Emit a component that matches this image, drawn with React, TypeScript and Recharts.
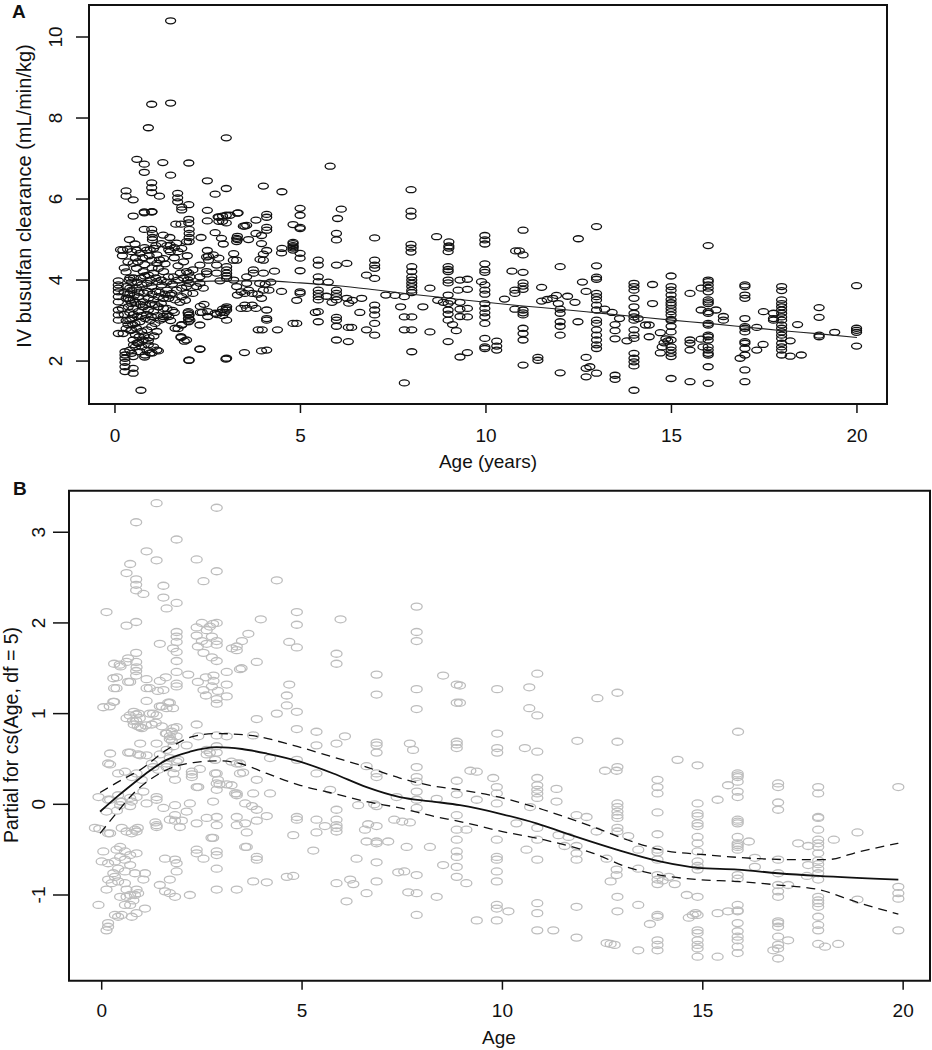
import React from 'react';
import { ScatterChart, Scatter, XAxis, YAxis, ReferenceArea } from 'recharts';

// Panel A: IV busulfan clearance (mL/min/kg) vs age (years)
const clearanceYoung: [number, number][] = [
  [1.5, 10.4], [0.99, 8.34], [1.5, 8.37], [0.9, 7.76], [3.0, 7.51], [0.59, 6.98], [0.79, 6.86], [1.29, 6.9], [1.99, 6.89],
  [0.79, 6.66], [1.5, 6.59], [0.3, 6.2], [0.3, 6.07], [0.49, 5.98], [0.99, 6.4], [0.99, 6.28], [0.99, 6.16], [1.2, 6.07],
  [1.69, 6.14], [1.69, 6.03], [1.69, 5.93], [1.8, 5.8], [1.8, 5.73], [1.99, 5.86], [2.49, 6.45], [2.7, 6.12], [3.0, 6.26],
  [4.0, 6.32], [4.5, 6.18], [2.49, 5.72], [0.49, 5.58], [0.79, 5.68], [0.99, 5.68], [1.99, 5.5], [1.99, 5.41], [2.49, 5.46],
  [2.8, 5.55], [2.9, 5.58], [3.0, 5.6], [3.1, 5.6], [3.3, 5.65], [3.0, 5.41], [4.09, 5.62], [4.09, 5.55], [4.99, 5.77],
  [4.99, 5.6], [4.8, 5.37], [4.99, 5.3], [4.99, 5.27], [3.5, 5.33], [3.55, 5.35], [3.8, 5.48], [4.09, 5.3], [4.09, 5.23],
  [4.8, 4.93], [4.8, 4.85], [4.8, 4.79], [4.5, 4.78], [4.09, 4.73], [2.49, 4.73],
  [0.79, 5.66], [1.0, 5.69], [1.64, 5.38], [1.78, 5.38], [0.79, 5.25], [0.99, 5.25], [1.01, 5.15], [1.01, 5.05], [1.01, 4.99],
  [1.3, 5.11], [1.48, 5.05], [2.0, 5.25], [2.0, 5.15], [2.0, 5.05], [2.0, 4.95], [2.32, 5.05], [2.7, 5.17], [2.87, 5.03],
  [2.92, 4.89], [3.28, 5.03], [3.28, 4.95], [3.46, 5.33], [3.6, 5.0], [3.8, 5.15], [3.95, 5.1], [3.95, 4.9], [0.39, 5.0],
  [0.54, 4.89], [0.21, 4.74], [0.34, 4.76], [0.8, 4.8], [0.95, 4.75], [1.1, 4.85], [1.25, 4.9], [1.45, 4.75], [1.6, 4.8],
  [1.7, 4.7], [2.52, 4.59], [2.52, 4.49], [3.28, 4.49], [3.91, 4.51], [2.78, 5.56], [3.32, 5.66], [2.8, 5.45], [2.9, 5.45],
  [0.45, 4.7], [0.58, 4.74], [0.67, 4.66], [0.86, 4.74], [1.04, 4.78], [1.13, 4.62], [0.99, 4.49], [1.13, 4.41], [1.31, 4.53],
  [1.49, 4.7], [1.49, 4.86], [1.66, 4.91], [1.8, 4.78], [1.93, 4.95],
  [0.49, 4.41], [0.58, 4.29], [0.76, 4.21], [0.9, 4.12], [1.04, 4.17], [1.17, 4.29], [1.31, 4.21], [1.44, 4.08], [1.58, 4.08],
  [1.76, 4.17], [1.93, 4.21], [2.02, 4.08],
  [0.31, 3.84], [0.45, 3.75], [0.58, 3.8], [0.72, 3.88], [0.86, 3.92], [0.99, 3.84], [1.13, 3.96], [1.26, 3.88], [1.4, 3.75],
  [1.53, 3.67], [1.66, 3.75], [1.8, 3.8], [1.93, 3.84],
  [0.36, 3.55], [0.49, 3.51], [0.63, 3.59], [0.76, 3.46], [0.9, 3.55], [1.04, 3.51], [1.17, 3.59], [1.31, 3.55], [1.49, 3.63],
  [1.62, 3.51], [1.8, 3.59], [1.93, 3.67],
  [0.36, 3.34], [0.49, 3.3], [0.63, 3.22], [0.76, 3.34], [0.9, 3.26], [1.04, 3.22], [1.17, 3.34], [1.31, 3.3],
  [0.4, 3.01], [0.54, 2.93], [0.67, 2.97], [0.81, 3.05], [0.95, 3.01], [1.08, 2.93], [1.22, 3.01],
  [0.45, 2.77], [0.58, 2.81], [0.72, 2.73], [0.86, 2.77], [0.99, 2.85], [1.13, 2.73],
  [0.49, 2.52], [0.63, 2.44], [0.76, 2.52], [0.9, 2.4], [1.04, 2.35], [1.13, 2.27], [0.86, 2.27], [0.67, 2.23], [0.81, 2.15],
  [0.4, 2.27], [0.45, 2.19], [0.49, 2.11],
  [0.55, 4.55], [0.62, 4.45], [0.75, 4.55], [0.8, 4.38], [0.92, 4.6], [1.0, 4.3], [1.2, 4.5], [1.35, 4.4], [1.4, 4.85],
  [1.6, 4.55], [1.7, 4.35], [1.85, 4.45], [1.95, 4.6],
  [0.38, 4.0], [0.5, 4.05], [0.6, 3.95], [0.7, 4.05], [0.8, 4.1], [0.95, 4.0], [1.1, 4.05], [1.25, 4.0], [1.4, 3.95],
  [1.55, 3.9], [1.7, 4.0], [1.85, 4.05], [2.0, 3.92],
  [0.4, 3.65], [0.52, 3.62], [0.65, 3.7], [0.78, 3.68], [0.88, 3.72], [1.0, 3.65], [1.1, 3.72], [1.2, 3.7], [1.35, 3.65],
  [1.45, 3.55], [1.75, 3.45], [1.9, 3.5],
  [0.45, 3.42], [0.55, 3.45], [0.68, 3.4], [0.82, 3.38], [0.95, 3.42], [1.08, 3.4], [1.25, 3.42], [1.4, 3.3], [1.55, 3.25],
  [0.5, 3.15], [0.6, 3.1], [0.72, 3.12], [0.85, 3.15], [0.98, 3.1], [1.15, 3.12], [1.3, 3.05], [1.45, 3.1],
  [0.55, 2.65], [0.65, 2.6], [0.78, 2.62], [0.92, 2.58], [1.05, 2.62], [0.55, 2.35], [0.72, 2.35], [0.95, 2.2],
  [0.27, 2.23], [0.27, 2.15], [0.27, 2.07], [0.27, 1.97], [0.27, 1.86], [0.27, 1.74], [0.49, 1.82], [0.49, 1.7], [0.7, 1.28],
  [0.09, 2.68], [0.22, 2.68], [1.17, 2.25], [0.8, 2.1], [1.0, 2.2], [0.6, 2.45], [0.5, 2.4], [0.9, 2.5],
  [1.78, 2.58], [1.87, 2.49], [1.99, 2.02], [2.29, 2.3], [2.99, 2.05], [3.49, 2.21], [3.95, 2.25], [3.86, 2.77], [2.29, 2.89],
  [1.62, 2.81], [1.8, 2.89], [1.98, 3.22], [1.98, 3.14], [1.98, 3.05], [1.98, 2.97], [2.3, 3.2], [2.5, 3.22], [2.7, 3.18],
  [2.9, 3.12], [2.9, 3.28], [3.0, 3.3], [2.95, 3.2],
  [0.09, 3.98], [0.09, 3.88], [0.09, 3.8], [0.09, 3.71], [0.09, 3.59], [0.09, 3.46], [0.09, 3.26], [0.09, 3.14], [0.09, 3.01],
  [0.15, 4.75], [0.2, 4.6], [0.25, 4.3], [0.3, 4.2], [0.35, 4.45], [0.2, 3.3], [0.25, 3.15], [0.3, 3.0], [0.35, 2.9],
  [0.3, 2.8], [0.4, 3.5], [0.4, 3.8], [0.35, 3.65], [0.3, 3.55], [0.25, 3.7], [0.4, 4.05], [0.45, 3.95], [0.4, 3.2],
  [0.45, 3.05], [0.48, 2.9], [0.42, 2.75],
  [3.19, 4.49], [3.01, 4.33], [3.01, 4.25], [3.01, 4.17], [3.01, 4.1], [3.01, 4.04], [2.74, 4.37], [2.74, 4.17], [2.83, 3.98],
  [3.2, 4.0], [3.28, 3.84], [3.4, 3.71], [3.3, 3.63], [3.5, 3.67], [3.6, 3.75], [3.7, 3.67], [3.55, 4.08], [3.55, 3.92],
  [3.73, 4.17], [3.73, 4.25], [4.0, 4.17], [2.47, 4.21], [2.47, 4.15], [2.29, 4.08], [2.29, 3.92], [2.38, 3.8], [2.2, 3.84],
  [2.1, 3.67], [1.97, 4.0], [1.99, 4.17], [2.1, 4.25], [2.29, 4.37], [2.47, 4.57], [2.65, 4.62], [2.8, 4.54], [3.2, 4.65],
  [3.3, 5.0], [3.3, 5.08],
  [1.78, 2.6], [1.93, 2.52], [1.7, 2.8], [1.8, 2.9], [2.0, 3.14], [1.99, 3.05], [2.02, 3.01], [1.97, 3.19], [1.5, 3.0],
  [1.4, 3.15], [1.6, 3.2], [1.3, 3.1], [3.01, 2.07], [2.29, 2.29], [2.0, 2.02],
  [3.4, 3.3], [3.5, 3.38], [3.55, 3.3], [3.7, 3.38], [3.8, 3.3], [3.01, 3.34], [3.01, 3.26], [3.01, 3.01], [2.85, 3.2],
  [2.75, 3.15], [2.5, 3.1], [2.3, 3.35], [2.4, 3.4], [2.35, 3.2],
  [4.0, 4.64], [4.0, 4.49], [4.49, 4.67], [4.8, 4.9], [4.8, 4.82], [4.8, 4.74], [4.99, 4.66], [4.99, 4.54], [4.99, 4.23],
  [4.3, 4.22], [4.2, 3.95], [4.05, 3.9], [3.9, 3.92], [4.15, 3.75], [4.0, 3.75], [3.85, 3.65], [3.95, 3.55],
  [4.09, 3.26], [4.09, 3.05], [4.09, 3.01], [3.97, 2.77], [4.38, 2.77], [4.09, 2.27], [4.49, 3.72], [4.99, 3.71],
  [4.99, 3.67], [4.9, 3.5], [4.8, 2.93], [4.9, 2.93],
];

const clearanceOlder: [number, number][] = [
  [5.8, 6.81], [6.0, 5.52], [6.1, 5.75], [7.98, 6.23], [7.98, 5.7], [7.98, 5.58], [5.97, 5.15], [5.97, 4.99], [7.0, 5.04],
  [8.67, 5.07], [9.0, 4.94], [9.0, 4.84], [9.0, 4.79], [7.98, 4.88], [7.98, 4.79], [7.98, 4.69],
  [5.48, 4.49], [5.48, 4.37], [5.97, 4.37], [6.25, 4.41], [7.0, 4.49], [7.0, 4.37], [7.0, 4.29], [6.78, 4.12], [7.0, 4.04],
  [8.0, 4.33], [8.0, 4.21], [8.0, 4.08], [8.0, 4.0], [8.0, 3.92], [8.0, 3.84], [8.0, 3.75], [8.0, 3.69], [8.49, 3.8],
  [8.98, 4.7], [8.98, 4.33], [8.98, 4.26], [8.98, 4.21], [8.98, 4.0], [8.98, 3.93], [8.98, 3.63], [8.98, 3.42], [8.98, 3.26],
  [8.98, 3.16], [8.98, 3.01], [8.98, 2.48], [8.7, 3.5], [8.85, 3.45], [9.05, 3.48], [9.3, 3.45], [9.25, 3.75], [9.3, 4.0],
  [9.3, 3.28], [9.3, 3.1], [9.1, 2.9], [9.2, 2.75], [9.3, 2.1],
  [7.3, 3.63], [7.55, 3.62], [7.8, 3.59], [7.7, 3.34], [7.8, 3.09], [8.0, 3.09], [8.0, 2.77], [7.8, 2.77], [8.0, 2.23],
  [7.8, 1.46], [8.49, 2.72], [8.3, 3.34],
  [7.0, 3.38], [7.0, 3.26], [7.0, 3.14], [7.0, 2.93], [7.0, 2.64], [6.78, 2.77], [6.4, 3.5], [6.3, 3.43], [6.65, 3.55],
  [6.6, 3.2], [6.29, 2.83], [6.38, 2.83], [6.29, 2.48],
  [5.97, 3.75], [5.97, 3.67], [5.97, 3.59], [5.97, 3.51], [5.97, 3.08], [5.97, 3.01], [5.97, 2.86], [5.97, 2.52], [6.25, 3.55],
  [5.48, 4.08], [5.48, 3.96], [5.48, 3.75], [5.48, 3.67], [5.48, 3.59], [5.48, 3.51], [5.48, 3.22], [5.48, 2.97], [5.4, 3.2],
  [5.7, 3.6], [5.85, 3.45], [5.75, 3.95],
  [9.97, 5.1], [9.97, 4.99], [9.97, 4.89], [11.0, 5.23], [12.49, 5.02], [12.98, 5.32], [15.99, 4.85], [10.8, 4.72], [10.9, 4.72],
  [11.0, 4.62], [9.97, 4.4], [9.97, 4.25], [9.97, 4.19], [10.7, 4.22], [11.0, 4.19], [12.0, 4.33], [12.98, 4.35], [12.98, 4.07],
  [12.98, 4.02], [9.5, 4.02], [9.5, 3.77], [9.88, 3.96], [9.97, 3.88], [9.97, 3.75], [9.97, 3.65], [10.78, 3.75], [10.78, 3.67],
  [11.0, 3.93], [11.0, 3.85], [11.0, 3.77], [11.5, 3.82], [10.5, 3.53], [9.5, 3.3], [9.5, 3.09], [9.97, 3.42],
  [9.97, 3.3], [9.97, 3.19], [9.97, 3.09], [9.97, 2.93], [10.78, 3.28], [11.0, 3.26], [11.0, 3.19], [11.0, 3.14], [11.0, 2.81],
  [11.0, 2.68], [11.0, 2.52], [9.97, 2.56], [9.97, 2.35], [9.97, 2.31], [10.29, 2.49], [10.29, 2.37], [10.29, 2.27], [9.5, 2.21],
  [11.4, 2.09], [11.4, 2.02], [11.0, 1.9], [12.0, 1.71], [11.5, 3.48], [11.65, 3.52], [11.8, 3.55], [11.9, 3.62], [11.95, 3.42],
  [12.0, 3.28], [12.0, 3.18], [12.0, 2.97], [12.0, 2.86], [12.0, 2.64], [12.2, 3.6], [12.4, 3.45], [12.6, 3.95], [12.7, 3.72],
  [12.48, 2.97], [12.98, 3.67], [12.98, 3.59], [12.98, 3.51], [12.98, 3.38], [12.98, 3.26], [12.98, 3.01], [12.98, 2.93],
  [12.98, 2.77], [12.98, 2.64], [12.98, 2.52], [12.98, 2.4], [12.98, 2.31], [12.7, 2.09], [12.7, 1.82], [12.8, 1.86],
  [12.98, 1.7], [12.7, 1.61], [13.48, 1.65], [13.48, 1.55], [13.2, 3.28], [13.4, 3.2], [13.6, 3.05], [13.48, 2.9],
  [13.48, 2.75], [13.48, 2.55], [13.8, 2.5],
  [13.99, 3.92], [13.99, 3.84], [13.99, 3.75], [13.99, 3.55], [13.99, 3.34], [13.99, 3.18], [13.99, 3.09], [13.99, 3.01],
  [13.99, 2.77], [13.99, 2.64], [13.99, 2.56], [13.99, 2.19], [13.99, 2.07], [13.99, 1.98], [13.99, 1.88], [13.99, 1.28],
  [14.49, 3.89], [14.49, 3.42], [14.3, 2.89], [14.4, 2.89], [14.4, 2.6], [14.1, 3.05],
  [14.99, 4.1], [14.99, 3.84], [14.99, 3.75], [14.99, 3.63], [14.99, 3.52], [14.99, 3.44], [14.99, 3.38], [14.99, 3.3],
  [14.99, 3.22], [14.99, 3.14], [14.99, 3.03], [14.99, 3.0], [14.99, 2.86], [14.99, 2.72], [14.99, 2.52], [14.99, 2.35],
  [14.99, 2.27], [14.99, 2.19], [14.99, 2.11], [14.99, 1.57], [14.7, 2.7], [14.7, 2.2], [14.8, 2.45], [14.75, 2.35],
  [14.85, 2.55], [14.9, 2.5],
  [15.5, 3.67], [15.5, 2.52], [15.5, 2.44], [15.5, 2.27], [15.5, 1.49], [15.8, 3.8], [15.8, 3.26], [15.8, 2.54], [15.85, 2.35],
  [15.99, 4.0], [15.99, 3.96], [15.99, 3.88], [15.99, 3.8], [15.99, 3.71], [15.99, 3.51], [15.99, 3.46], [15.99, 3.42],
  [15.99, 3.22], [15.99, 3.18], [15.99, 2.93], [15.99, 2.89], [15.99, 2.64], [15.99, 2.6], [15.99, 2.52], [15.99, 2.35],
  [15.99, 2.27], [15.99, 2.19], [15.99, 2.15], [15.99, 1.86], [15.99, 1.45], [16.2, 3.26], [16.4, 3.1], [16.4, 3.01],
  [16.98, 3.88], [16.98, 3.84], [16.98, 3.63], [16.98, 3.55], [16.98, 3.05], [16.98, 2.85], [16.98, 2.81], [16.98, 2.72],
  [16.98, 2.48], [16.98, 2.44], [16.98, 2.31], [16.98, 2.15], [16.98, 1.78], [16.98, 1.49], [16.85, 2.07], [17.3, 2.27],
  [17.47, 2.41], [17.3, 2.83], [17.48, 3.22], [17.75, 3.18], [17.75, 3.05], [17.75, 3.01],
  [17.97, 3.84], [17.97, 3.74], [17.97, 3.51], [17.97, 3.42], [17.97, 3.34], [17.97, 3.26], [17.97, 3.18], [17.97, 3.09],
  [17.97, 3.01], [17.97, 2.89], [17.97, 2.81], [17.97, 2.72], [17.97, 2.64], [17.97, 2.56], [17.97, 2.44], [17.97, 2.35],
  [17.97, 2.27], [17.97, 2.15], [18.2, 2.5], [18.2, 2.12], [18.4, 2.9], [18.5, 2.15],
  [18.98, 3.32], [18.98, 3.08], [18.98, 2.64], [18.98, 2.6], [19.4, 2.71], [19.99, 3.86], [19.99, 2.81], [19.99, 2.76],
  [19.99, 2.71], [19.99, 2.37],
];

// smooth fit through panel A
const fitA: [number, number][] = [
  [0.09, 3.72], [0.5, 3.8], [1, 3.87], [1.5, 3.92], [2, 3.95], [3, 3.98], [4, 3.98], [5, 3.93], [6, 3.86], [7, 3.76],
  [8, 3.65], [9, 3.55], [10, 3.45], [11, 3.36], [12, 3.28], [13, 3.19], [14, 3.1], [15, 3.01], [16, 2.93], [17, 2.84],
  [18, 2.75], [19, 2.67], [20, 2.58],
];

// Panel B: partial residuals for cs(Age, df = 5)
const partialYoung: [number, number][] = [
  [1.37, 3.32], [2.87, 3.27], [0.86, 3.11], [1.87, 2.92], [1.12, 2.79], [1.37, 2.69], [2.37, 2.7], [0.71, 2.65], [0.62, 2.55],
  [2.87, 2.57], [0.86, 2.48], [0.86, 2.42], [0.86, 2.36], [1.04, 2.32], [1.54, 2.41], [1.54, 2.28], [1.62, 2.16], [1.87, 2.22],
  [2.54, 2.46], [4.37, 2.47], [0.12, 2.12], [0.62, 1.97], [0.86, 2.01], [1.87, 1.9], [1.87, 1.85], [1.87, 1.79], [1.87, 1.68],
  [1.87, 1.58], [1.87, 1.46], [1.87, 1.33], [1.45, 1.77], [1.78, 1.72], [2.37, 1.86], [2.54, 1.67], [2.62, 1.92], [2.7, 1.96],
  [2.78, 1.99], [2.87, 2.0], [2.87, 1.8], [2.87, 1.76], [2.87, 1.58], [2.62, 1.77], [3.37, 1.74], [3.37, 1.7], [3.5, 1.8],
  [3.66, 1.88], [3.97, 2.04], [3.87, 1.57], [3.45, 1.49], [3.12, 1.46], [3.12, 1.32], [3.12, 1.19], [2.87, 1.16], [2.87, 1.11],
  [2.79, 1.42], [2.79, 1.36], [2.54, 1.26], [2.16, 1.43], [1.87, 1.3], [1.54, 1.26], [1.45, 1.36], [1.7, 1.12], [1.78, 1.06],
  [0.31, 1.55], [0.47, 1.52], [0.38, 1.4], [0.31, 1.28], [0.31, 1.13], [0.2, 1.08], [0.66, 1.35], [0.86, 1.47], [0.86, 1.42],
  [0.86, 1.57], [0.66, 1.61], [0.86, 1.67], [1.12, 1.38], [1.12, 1.28], [1.12, 1.14], [1.2, 1.0], [1.4, 1.25],
  [0.7, 0.98], [0.8, 1.02], [0.86, 0.99], [0.92, 1.0], [0.95, 0.95], [0.62, 0.95], [0.78, 0.92], [0.8, 0.88], [0.86, 0.92],
  [0.96, 0.85], [1.1, 0.87], [1.28, 1.0], [1.5, 1.08], [1.62, 1.06], [1.5, 0.86], [1.6, 0.78], [1.7, 0.72], [1.75, 0.7],
  [1.87, 0.75], [2.37, 0.88], [3.87, 0.94], [4.37, 1.0], [4.62, 1.2], [4.62, 1.09], [4.68, 1.32], [4.87, 2.12], [4.87, 1.98],
  [4.87, 1.73], [4.68, 1.79], [4.87, 1.02], [4.87, 0.83],
  [2.37, 1.95], [2.5, 2.0], [2.5, 1.8], [2.75, 1.85], [2.4, 1.74], [2.75, 1.62], [3.25, 1.72],
  [0.45, 1.54], [0.62, 1.57], [0.87, 1.51], [0.29, 1.39], [0.37, 1.28], [0.71, 1.35], [1.2, 1.28], [1.6, 1.4],
  [0.04, 1.07], [0.29, 1.13], [1.45, 1.08], [1.37, 0.98], [1.66, 1.12], [0.9, 0.86], [1.0, 0.84], [1.25, 0.88],
  [1.35, 0.9], [1.75, 0.8], [1.87, 0.85], [2.4, 1.35], [2.6, 1.4], [2.75, 1.3], [2.9, 1.25], [2.6, 1.2], [3.49, 1.5],
  [0.21, 0.56], [0.21, 0.44], [0.66, 0.57], [0.71, 0.57], [0.96, 0.54], [1.12, 0.54], [0.96, 0.67], [0.16, 0.45],
  [0.41, 0.34], [0.58, 0.36], [0.75, 0.3], [0.87, 0.34], [1.0, 0.27], [1.25, 0.45], [1.41, 0.38], [1.62, 0.41], [1.83, 0.4],
  [1.7, 0.51], [1.91, 0.49], [1.83, 0.27], [2.25, 0.36], [2.25, 0.33], [2.25, 0.3], [2.41, 0.19], [2.83, 0.34], [2.9, 0.27],
  [2.94, 0.22], [3.24, 0.21], [2.83, 0.49], [3.24, 0.47], [3.33, 0.12], [3.45, 0.34], [0.91, 0.55], [1.29, 0.41], [1.45, 0.55],
  [1.62, 0.45], [1.79, 0.34], [1.87, 0.47], [1.62, 0.6], [1.79, 0.64], [2.12, 0.65], [2.41, 0.75], [2.62, 0.6], [2.7, 0.57],
  [2.87, 0.64], [3.12, 0.75], [3.45, 0.45], [3.78, 0.76], [4.2, 0.51], [2.87, 0.76], [1.37, 0.67], [1.62, 0.78], [1.79, 0.84],
  [1.7, 0.75], [2.45, 0.39], [2.62, 0.55], [2.87, 0.57], [2.87, 0.34], [2.87, 0.23], [2.87, 0.16], [3.12, 0.22], [2.37, 0.19],
  [3.37, 0.45], [3.53, 0.35], [3.87, 0.27], [4.2, 0.12], [3.78, 0.12], [3.37, 0.12], [4.87, 0.49],
  [-0.08, 0.08], [0.16, 0.05], [0.41, 0.1], [0.5, 0.03], [0.71, 0.07], [0.87, 0.08], [1.12, 0.01], [1.37, 0.08], [1.37, 0.05],
  [1.54, -0.04], [1.83, -0.01], [2.2, 0.01], [2.12, -0.08], [1.83, -0.12], [1.7, -0.17], [1.83, -0.18], [2.0, -0.18],
  [1.95, -0.25], [2.37, -0.21], [2.62, -0.15], [2.87, -0.14], [2.87, -0.23], [2.78, 0.03], [3.37, 0.1], [3.37, -0.14],
  [3.37, -0.23], [3.58, 0.01], [1.04, 0.14], [0.75, 0.03], [0.71, -0.02], [0.46, -0.01], [0.38, -0.07], [0.46, 0.03],
  [0.21, 0.05], [0.12, -0.08], [-0.06, -0.27], [0.21, -0.32], [1.37, -0.23], [1.37, -0.25], [2.78, -0.37],
  [-0.17, -0.26], [0.16, -0.32], [0.5, -0.26], [0.62, -0.3], [0.75, -0.32], [0.83, -0.28], [0.87, -0.3], [0.9, -0.26],
  [1.34, -0.2], [0.04, -0.52], [0.37, -0.5], [0.46, -0.47], [0.58, -0.52], [0.71, -0.56], [0.87, -0.54], [0.0, -0.63],
  [0.16, -0.65], [0.33, -0.63], [0.46, -0.58], [0.58, -0.61], [0.71, -0.67], [0.41, -0.71], [0.58, -0.74], [0.83, -0.76],
  [0.29, -0.76], [0.33, -0.8], [0.16, -0.83], [0.41, -0.85], [0.58, -0.87], [0.25, -0.87], [0.12, -0.94], [0.62, -0.94],
  [0.87, -0.94], [0.46, -1.02], [0.62, -1.02], [0.71, -1.0], [0.83, -1.0], [0.91, -0.98], [0.79, -1.06], [0.71, -1.11],
  [0.58, -1.11], [1.08, -1.15], [0.87, -1.2], [0.75, -1.24], [0.5, -1.22], [0.41, -1.24], [0.33, -1.22], [0.16, -1.31],
  [0.16, -1.35], [0.12, -1.39], [-0.08, -1.11], [1.08, -0.76], [1.04, -0.83],
  [1.58, -0.6], [1.83, -0.61], [1.87, -0.65], [1.87, -0.74], [1.7, -0.83], [1.45, -0.89], [1.58, -0.96], [1.7, -0.98],
  [1.83, -1.02], [2.2, -1.0], [2.37, -0.5], [2.37, -0.54], [2.54, -0.6], [2.87, -0.52], [2.87, -0.56], [2.87, -0.71],
  [2.87, -0.94], [3.37, -0.94], [3.58, -0.47], [3.58, -0.21], [2.74, -0.37],
  [3.62, -0.47], [3.87, -0.58], [3.87, -0.61], [3.78, -0.85], [4.12, -0.86], [4.62, -0.8], [4.78, -0.79],
  [3.62, -0.31], [3.87, -0.18], [3.75, -0.02], [3.87, -0.06], [4.12, -0.13],
];

const partialOlder: [number, number][] = [
  [5.36, 0.8], [5.36, 0.65], [5.86, 1.66], [5.86, 1.55], [5.96, 2.04], [6.07, 0.75], [5.86, 0.67], [6.86, 1.43], [6.86, 1.21],
  [6.86, 0.68], [6.86, 0.65], [6.86, 0.57], [6.61, 0.42], [7.86, 2.18], [7.86, 1.9], [7.86, 1.8], [7.86, 1.27], [7.86, 1.05],
  [7.86, 0.41], [7.69, 0.67], [7.77, 0.6], [8.52, 1.42], [8.86, 1.32], [8.86, 1.12], [8.86, 0.69], [8.86, 0.66], [8.86, 0.62],
  [5.36, 0.34], [5.7, 0.16], [6.86, 0.34], [6.86, 0.3],
  [5.28, -0.51], [4.78, -0.34], [4.87, -0.14], [4.87, -0.17], [5.36, -0.17], [5.36, -0.31], [5.57, -0.24], [5.86, -0.06],
  [5.86, -0.17], [5.86, -0.23], [5.86, -0.26], [5.86, -0.3], [5.86, -0.87], [6.2, -0.83], [6.28, -0.88], [6.11, -1.07],
  [6.36, -0.6], [6.61, -0.98], [6.57, -0.28], [6.65, -0.22], [6.86, -0.24], [6.61, -0.41], [6.86, -0.41], [6.86, -0.43],
  [7.15, -0.41], [6.86, -0.64], [6.86, -0.85], [6.4, -0.01], [6.8, 0.0], [6.86, -0.02], [7.36, 0.08], [7.3, -0.17],
  [7.5, -0.19], [7.69, -0.2], [7.61, -0.47], [8.19, -0.47], [7.4, -0.75], [7.55, -0.74], [7.86, -0.78], [7.65, -0.97],
  [7.86, -0.98], [7.86, -1.22], [8.36, -1.02], [8.52, -0.67], [7.86, 0.3], [7.86, 0.25], [7.86, 0.14], [7.86, 0.05],
  [7.86, -0.04], [8.36, 0.06], [8.86, 0.26], [8.86, 0.11], [8.86, -0.12], [8.86, -0.28], [8.86, -0.39], [8.86, -0.52],
  [8.86, -0.58], [8.86, -0.69], [8.86, -0.8], [9.1, -0.28],
  [10.87, 1.44], [10.67, 1.29], [9.87, 1.27], [10.67, 1.06], [10.87, 0.98], [12.37, 1.17], [12.87, 1.23], [9.87, 0.78],
  [9.87, 0.62], [9.87, 0.57], [10.56, 0.62], [10.87, 0.58], [11.87, 0.7], [12.87, 0.69], [15.88, 0.8], [14.37, 0.49],
  [14.87, 0.43], [12.87, 0.41], [12.56, 0.37], [12.85, 0.37], [9.2, 0.37], [8.94, 1.31], [8.94, 1.12],
  [9.36, 0.36], [9.77, 0.29], [9.86, 0.19], [9.86, 0.12], [9.86, 0.01], [9.86, -0.39], [9.86, -0.58], [9.86, -0.61],
  [9.86, -0.74], [9.86, -0.85], [9.86, -1.11], [9.86, -1.15], [9.86, -1.28], [10.15, -1.18], [9.36, -1.28], [9.36, 0.05],
  [9.1, -0.87], [10.35, -0.21], [10.6, -0.5], [10.69, -0.03],
  [10.87, 0.29], [10.87, 0.21], [10.87, 0.16], [10.87, 0.12], [10.87, 0.07], [10.87, -0.26], [10.87, -0.39], [10.87, -0.61],
  [10.87, -1.09], [10.87, -1.2], [10.87, -1.39], [11.27, -1.39], [11.35, 0.17], [11.35, 0.03], [11.4, -0.34], [11.65, -0.36],
  [11.55, -0.46], [11.85, -0.12], [12.1, -0.14], [11.85, -0.46], [11.85, -0.54], [11.85, -0.61], [11.85, -1.13],
  [11.85, -1.47], [12.35, -0.3], [12.6, -0.6], [12.7, -0.85], [12.85, -0.78], [12.85, -0.72],
  [12.87, 0.01], [12.87, -0.03], [12.87, -0.08], [12.87, -0.12], [12.87, -0.15], [12.87, -0.26], [12.87, -0.3], [12.87, -1.02],
  [12.87, -1.18], [12.6, -1.53], [12.7, -1.54], [12.8, -1.55], [13.14, -0.35], [13.39, -0.5], [13.39, -0.71], [13.39, -1.11],
  [13.39, -1.61], [13.68, -1.32],
  [13.87, 0.27], [13.87, 0.19], [13.87, 0.12], [13.87, -0.09], [13.87, -0.33], [13.87, -0.5], [13.87, -0.53], [13.87, -0.61],
  [13.87, -0.78], [13.87, -0.83], [13.87, -0.88], [13.87, -1.22], [13.87, -1.24], [13.87, -1.5], [13.87, -1.55], [13.87, -1.61],
  [14.0, -0.84], [14.15, -0.8], [14.3, -0.88], [14.6, -1.0], [14.65, -1.25], [14.75, -1.22], [14.82, -1.2],
  [14.87, 0.01], [14.87, -0.1], [14.87, -0.13], [14.87, -0.21], [14.87, -0.24], [14.87, -0.36], [14.87, -0.43], [14.87, -0.52],
  [14.87, -0.63], [14.87, -0.68], [14.87, -0.72], [14.87, -1.02], [14.87, -1.22], [14.87, -1.39], [14.87, -1.42], [14.87, -1.5],
  [14.87, -1.55], [14.87, -1.59], [14.87, -1.68], [15.37, 0.05], [15.37, -1.2], [15.37, -1.68], [15.63, 0.21], [15.63, -1.18],
  [15.87, 0.34], [15.87, 0.32], [15.87, 0.3], [15.87, 0.25], [15.87, 0.14], [15.87, 0.08], [15.87, -0.17], [15.87, -0.19],
  [15.87, -0.21], [15.87, -0.36], [15.87, -0.43], [15.87, -0.45], [15.87, -0.47], [15.87, -0.5], [15.87, -0.78], [15.87, -0.82],
  [15.87, -1.11], [15.87, -1.17], [15.87, -1.18], [15.87, -1.31], [15.87, -1.4], [15.87, -1.46], [15.87, -1.5], [15.87, -1.57],
  [15.87, -1.64], [16.15, -0.41], [16.3, -0.59], [16.3, -0.69],
  [16.88, 0.23], [16.88, 0.19], [16.88, 0.02], [16.88, -0.06], [16.88, -0.61], [16.88, -0.76], [16.88, -0.89], [16.88, -0.96],
  [16.88, -1.02], [16.88, -1.29], [16.88, -1.31], [16.88, -1.35], [16.88, -1.46], [16.88, -1.55], [16.88, -1.59], [16.88, -1.7],
  [16.76, -1.61], [17.13, -1.5], [17.13, -0.89], [17.38, -0.43], [17.63, -0.46], [17.63, -0.67], [17.6, -0.79],
  [17.88, 0.19], [17.88, 0.12], [17.88, -0.14], [17.88, -0.15], [17.88, -0.28], [17.88, -0.39], [17.88, -0.43], [17.88, -0.47],
  [17.88, -0.54], [17.88, -0.62], [17.88, -0.66], [17.88, -0.71], [17.88, -0.76], [17.88, -0.83], [17.88, -1.02], [17.88, -1.06],
  [17.88, -1.09], [17.88, -1.13], [17.88, -1.24], [17.88, -1.33], [17.88, -1.39], [17.88, -1.54], [18.05, -1.57], [18.38, -1.54],
  [18.27, -0.39], [18.86, -0.31], [18.86, -1.05],
  [19.88, 0.19], [19.88, -0.91], [19.88, -0.98], [19.88, -1.04], [19.88, -1.39],
];

// cs(Age, df = 5) fit and +/- 2 SE bands
const splineB: [number, number][] = [
  [-0.04, -0.08], [0.4, 0.09], [0.79, 0.23], [1.2, 0.37], [1.62, 0.49], [2.2, 0.58], [2.87, 0.63], [3.5, 0.61], [4.12, 0.56],
  [4.95, 0.47], [5.78, 0.34], [6.61, 0.19], [7.44, 0.08], [8.27, 0.03], [8.94, -0.01], [10.0, -0.11], [10.85, -0.21],
  [11.85, -0.36], [12.85, -0.5], [13.93, -0.63], [14.87, -0.7], [15.87, -0.72], [16.88, -0.76], [17.88, -0.79], [19.88, -0.83],
];
const upperB: [number, number][] = [
  [-0.04, 0.13], [0.5, 0.27], [0.96, 0.38], [1.62, 0.6], [2.29, 0.75], [2.87, 0.78], [3.7, 0.76], [4.78, 0.65], [5.78, 0.52],
  [6.61, 0.41], [7.44, 0.29], [8.3, 0.2], [8.94, 0.16], [10.0, 0.07], [11.02, -0.06], [12.27, -0.25], [13.1, -0.39],
  [13.93, -0.5], [15.18, -0.56], [16.42, -0.6], [17.26, -0.61], [18.09, -0.61], [18.92, -0.52], [19.88, -0.43],
];
const lowerB: [number, number][] = [
  [-0.04, -0.32], [0.4, -0.08], [0.79, 0.12], [1.2, 0.27], [1.62, 0.38], [2.29, 0.46], [2.87, 0.48], [3.45, 0.45], [4.12, 0.34],
  [4.95, 0.21], [5.78, 0.12], [6.61, 0.03], [7.44, -0.04], [8.27, -0.13], [8.94, -0.19], [10.0, -0.3], [11.02, -0.39],
  [12.27, -0.54], [13.1, -0.69], [13.93, -0.78], [14.87, -0.83], [15.87, -0.85], [16.88, -0.89], [17.88, -0.94],
  [18.92, -1.09], [19.88, -1.21],
];

const xTicks = [0, 5, 10, 15, 20];
const yTicksA = [2, 4, 6, 8, 10];
const yTicksB = [-1, 0, 1, 2, 3];

const FONT = '"Liberation Sans", Arial, Helvetica, sans-serif';
const toPts = (arr: [number, number][]) => arr.map(([x, y]) => ({ x, y }));

const blackRing = (p: any) => (
  <ellipse cx={p.cx} cy={p.cy} rx={5} ry={3} fill="none" stroke="#111" strokeWidth={1.3} />
);
const grayRing = (p: any) => (
  <ellipse cx={p.cx} cy={p.cy} rx={5.5} ry={3.5} fill="none" stroke="#bdbdbd" strokeWidth={1.3} />
);
const noDot = () => <g />;

const App: React.FC = () => {
  const xTick = (dy: number) => (props: any) => (
    <text x={props.x} y={props.y + dy} textAnchor="middle" fontFamily={FONT} fontSize={19} fill="#111">
      {props.payload.value}
    </text>
  );
  const yTick = (bx: number) => (props: any) => (
    <text
      x={bx}
      y={props.y}
      textAnchor="middle"
      transform={`rotate(-90, ${bx}, ${props.y})`}
      fontFamily={FONT}
      fontSize={19}
      fill="#111"
    >
      {props.payload.value}
    </text>
  );

  return (
    <div style={{ position: 'absolute', left: 0, top: 0, width: 932, height: 1050, background: '#fff' }}>
      {/* Panel A */}
      <div style={{ position: 'absolute', left: 0, top: 0 }}>
        <ScatterChart width={932} height={480} margin={{ top: 5, right: 45, bottom: 36, left: 0 }}>
          <XAxis
            type="number"
            dataKey="x"
            domain={[-0.7, 20.81]}
            allowDataOverflow
            ticks={xTicks}
            height={40}
            axisLine={false}
            tickSize={9}
            tickLine={{ stroke: '#111', strokeWidth: 1.5 }}
            tick={xTick(27)}
            interval={0}
          />
          <YAxis
            type="number"
            dataKey="y"
            domain={[0.94, 10.79]}
            allowDataOverflow
            ticks={yTicksA}
            width={89}
            axisLine={false}
            tickSize={13}
            tickLine={{ stroke: '#111', strokeWidth: 1.5 }}
            tick={yTick(62)}
            interval={0}
          />
          <ReferenceArea x1={-0.7} x2={20.81} y1={0.94} y2={10.79} fill="none" stroke="#111" strokeWidth={2} ifOverflow="visible" />
          <Scatter data={toPts(clearanceYoung)} shape={blackRing} isAnimationActive={false} />
          <Scatter data={toPts(clearanceOlder)} shape={blackRing} isAnimationActive={false} />
          <Scatter
            data={toPts(fitA)}
            shape={noDot}
            line={{ stroke: '#222', strokeWidth: 1.1 }}
            lineType="joint"
            lineJointType="monotoneX"
            isAnimationActive={false}
          />
        </ScatterChart>
      </div>

      {/* Panel B */}
      <div style={{ position: 'absolute', left: 0, top: 480 }}>
        <ScatterChart width={932} height={570} margin={{ top: 10.7, right: 2, bottom: 29.3, left: 0 }}>
          <XAxis
            type="number"
            dataKey="x"
            domain={[-0.816, 20.67]}
            allowDataOverflow
            ticks={xTicks}
            height={40}
            axisLine={false}
            tickSize={9}
            tickLine={{ stroke: '#111', strokeWidth: 1.5 }}
            tick={xTick(25)}
            interval={0}
          />
          <YAxis
            type="number"
            dataKey="y"
            domain={[-1.945, 3.458]}
            allowDataOverflow
            ticks={yTicksB}
            width={69}
            axisLine={false}
            tickSize={16}
            tickLine={{ stroke: '#111', strokeWidth: 1.5 }}
            tick={yTick(45)}
            interval={0}
          />
          <ReferenceArea x1={-0.816} x2={20.67} y1={-1.945} y2={3.458} fill="none" stroke="#111" strokeWidth={2} ifOverflow="visible" />
          <Scatter data={toPts(partialYoung)} shape={grayRing} isAnimationActive={false} />
          <Scatter data={toPts(partialOlder)} shape={grayRing} isAnimationActive={false} />
          <Scatter
            data={toPts(upperB)}
            shape={noDot}
            line={{ stroke: '#111', strokeWidth: 1.3, strokeDasharray: '9 6' }}
            lineType="joint"
            lineJointType="monotoneX"
            isAnimationActive={false}
          />
          <Scatter
            data={toPts(lowerB)}
            shape={noDot}
            line={{ stroke: '#111', strokeWidth: 1.3, strokeDasharray: '9 6' }}
            lineType="joint"
            lineJointType="monotoneX"
            isAnimationActive={false}
          />
          <Scatter
            data={toPts(splineB)}
            shape={noDot}
            line={{ stroke: '#111', strokeWidth: 1.8 }}
            lineType="joint"
            lineJointType="monotoneX"
            isAnimationActive={false}
          />
        </ScatterChart>
      </div>

      {/* panel letters and axis titles */}
      <svg width={932} height={1050} style={{ position: 'absolute', left: 0, top: 0, pointerEvents: 'none' }}>
        <text x={12} y={18} fontFamily={FONT} fontSize={19} fontWeight="bold" fill="#111">A</text>
        <text x={13} y={495} fontFamily={FONT} fontSize={19} fontWeight="bold" fill="#111">B</text>
        <text x={488} y={468} textAnchor="middle" fontFamily={FONT} fontSize={19} fill="#111">Age (years)</text>
        <text x={499} y={1044} textAnchor="middle" fontFamily={FONT} fontSize={19} fill="#111">Age</text>
        <text
          x={31}
          y={196}
          textAnchor="middle"
          transform="rotate(-90, 31, 196)"
          fontFamily={FONT}
          fontSize={20}
          fill="#111"
        >
          IV busulfan clearance (mL/min/kg)
        </text>
        <text
          x={18}
          y={735}
          textAnchor="middle"
          transform="rotate(-90, 18, 735)"
          fontFamily={FONT}
          fontSize={19.5}
          fill="#111"
        >
          Partial for cs(Age, df = 5)
        </text>
      </svg>
    </div>
  );
};

export default App;
